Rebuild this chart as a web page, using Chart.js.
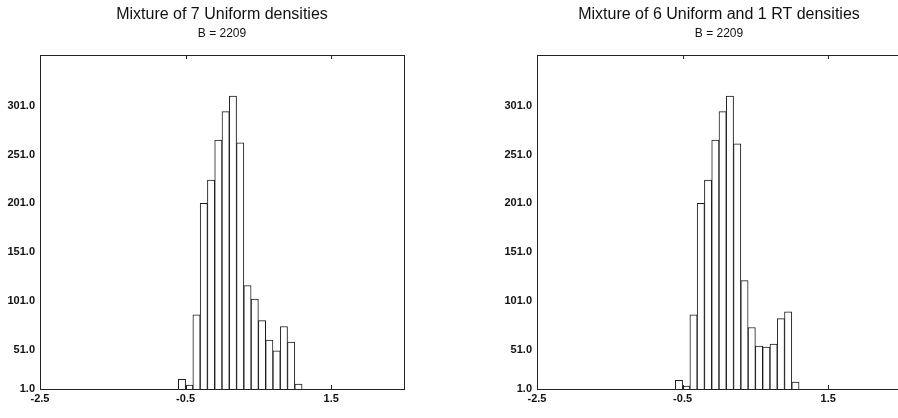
<!DOCTYPE html>
<html>
<head>
<meta charset="utf-8">
<script src="https://cdn.jsdelivr.net/npm/chart.js@4/dist/chart.umd.min.js"></script>
<style>
  html, body { margin: 0; padding: 0; background: #fff; overflow: hidden; width: 898px; height: 418px; }
  .panel { position: absolute; top: 0; width: 449px; height: 418px; }
  #p1 { left: 0; }
  #p2 { left: 497px; }
</style>
</head>
<body>
<div class="panel" id="p1"><canvas id="c1" width="449" height="418"></canvas></div>
<div class="panel" id="p2"><canvas id="c2" width="449" height="418"></canvas></div>
<script>
// ---- data ----
const binCenters = [-0.55, -0.45, -0.35, -0.25, -0.15, -0.05, 0.05, 0.15, 0.25, 0.35, 0.45, 0.55, 0.65, 0.75, 0.85, 0.95, 1.05];
const countsUniform = [21, 15, 87, 201, 225, 266, 295, 311, 263, 117, 103, 81, 61, 50, 75, 59, 16];
const countsUniformRT = [20, 14, 87, 201, 225, 266, 295, 311, 262, 122, 74, 55, 54, 57, 83, 90, 18];
const xTicks = [-2.5, -0.5, 1.5];
const yTicks = [1, 51, 101, 151, 201, 251, 301];
const titles = ["Mixture of 7 Uniform densities", "Mixture of 6 Uniform and 1 RT densities"];
const subtitle = "B = 2209";
const xRange = [-2.5, 2.5];
const yRange = [11, 353];

const FONT = "'Liberation Sans', Arial, Helvetica, sans-serif";

const framePlugin = {
  id: 'frame',
  afterDraw(chart) {
    const a = chart.chartArea, ctx = chart.ctx;
    ctx.save();
    ctx.strokeStyle = '#222';
    ctx.lineWidth = 1;
    ctx.strokeRect(Math.round(a.left) + 0.5, Math.round(a.top) + 0.5,
                   Math.round(a.right - a.left), Math.round(a.bottom - a.top));
    const xs = chart.scales.x;
    ctx.beginPath();
    xTicks.forEach(v => {
      const px = Math.round(xs.getPixelForValue(v)) + 0.5;
      ctx.moveTo(px, a.top); ctx.lineTo(px, a.top + 4);
      ctx.moveTo(px, a.bottom); ctx.lineTo(px, a.bottom - 4);
    });
    ctx.stroke();
    ctx.restore();
  }
};

function makeChart(id, counts, title) {
  return new Chart(document.getElementById(id), {
    type: 'bar',
    data: {
      datasets: [{
        data: binCenters.map((x, i) => ({ x: x, y: counts[i] })),
        backgroundColor: '#ffffff',
        borderColor: '#1a1a1a',
        borderWidth: { top: 1, left: 1, right: 1, bottom: 0 },
        borderSkipped: false,
        barPercentage: 1.0,
        categoryPercentage: 1.0
      }]
    },
    options: {
      responsive: false,
      animation: false,
      events: [],
      layout: { padding: { left: 0, right: 45, top: 0, bottom: 0 } },
      plugins: {
        legend: { display: false },
        tooltip: { enabled: false },
        title: {
          display: true, text: title, color: '#111', fullSize: false,
          font: { family: FONT, size: 16, weight: 'normal', lineHeight: 1.2 },
          padding: { top: 5, bottom: 0 }
        },
        subtitle: {
          display: true, text: subtitle, color: '#111', fullSize: false,
          font: { family: FONT, size: 12, weight: 'normal', lineHeight: 1.2 },
          padding: { top: 2, bottom: 14.4 }
        }
      },
      scales: {
        x: {
          type: 'linear', min: xRange[0], max: xRange[1], offset: false,
          grid: { display: false, drawTicks: false },
          border: { display: true, color: '#222', width: 1 },
          afterBuildTicks: s => { s.ticks = xTicks.map(v => ({ value: v })); },
          afterFit: s => { s.height = 29; },
          ticks: {
            color: '#111', padding: 3, maxRotation: 0, autoSkip: false,
            font: { family: FONT, size: 11, weight: 'bold' },
            callback: v => Number(v).toFixed(1)
          }
        },
        y: {
          type: 'linear', min: yRange[0], max: yRange[1],
          grid: { display: false, drawTicks: false },
          border: { display: true, color: '#222', width: 1 },
          afterBuildTicks: s => { s.ticks = yTicks.map(v => ({ value: Math.max(v, s.min) })); },
          afterFit: s => { s.width = 40; },
          ticks: {
            color: '#111', padding: 5, autoSkip: false,
            font: { family: FONT, size: 11, weight: 'bold' },
            callback: (v, i) => yTicks[i].toFixed(1)
          }
        }
      }
    },
    plugins: [framePlugin]
  });
}

makeChart('c1', countsUniform, titles[0]);
makeChart('c2', countsUniformRT, titles[1]);
</script>
</body>
</html>
